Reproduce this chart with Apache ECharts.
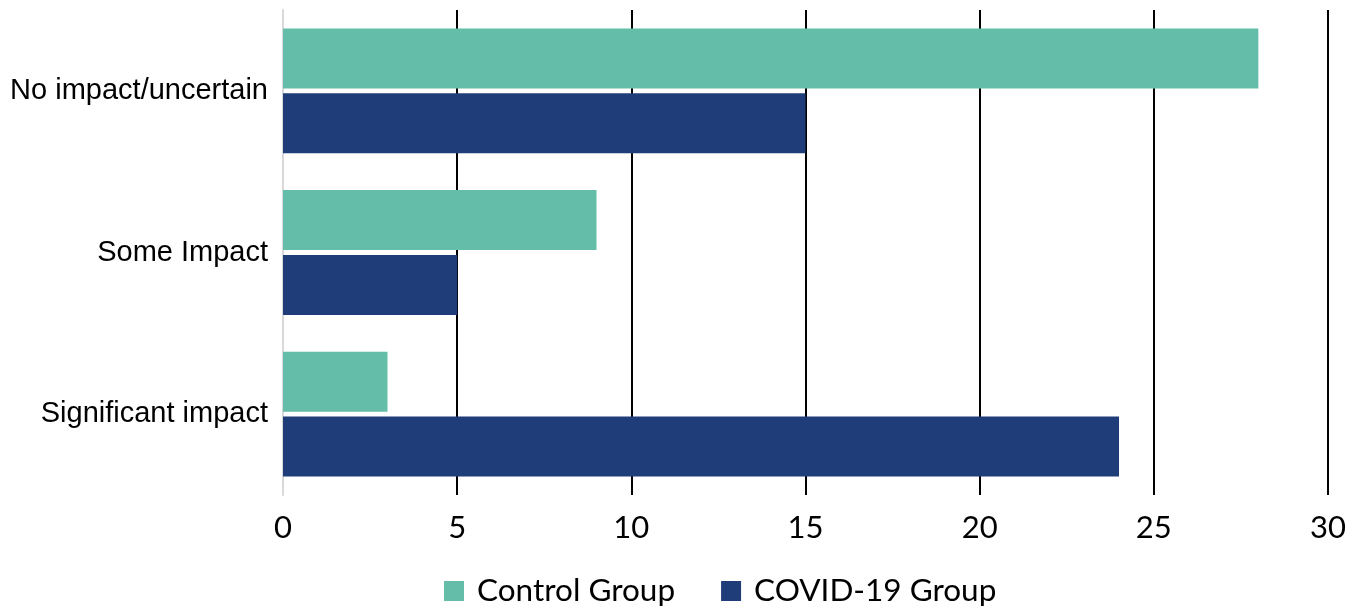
<!DOCTYPE html>
<html>
<head>
<meta charset="utf-8">
<script src="https://cdn.jsdelivr.net/npm/echarts@6/dist/echarts.min.js"></script>
<style>html,body{margin:0;padding:0;background:#fff}#c{width:1361px;height:608px}</style>
</head>
<body>
<div id="c"></div>
<script>
const categories = ['No impact/uncertain', 'Some Impact', 'Significant impact'];
const controlGroup = [28, 9, 3];
const covidGroup = [15, 5, 24];
const xTicks = [0, 5, 10, 15, 20, 25, 30];

const chart = echarts.init(document.getElementById('c'));
chart.setOption({
  animation: false,
  grid: { left: 283, right: 33, top: 10, bottom: 113, containLabel: false },
  legend: {
    top: 570, left: 439,
    itemWidth: 20, itemHeight: 20, itemGap: 46,
    icon: 'rect',
    textStyle: { fontFamily: 'Lato', fontSize: 31.5, color: '#000', padding: [0, 0, 0, 8] },
    data: ['Control Group', 'COVID-19 Group']
  },
  xAxis: {
    type: 'value', min: 0, max: 30, interval: 5,
    axisLine: { show: false }, axisTick: { show: false },
    axisLabel: { fontFamily: 'Lato', fontSize: 31, color: '#000', margin: 17 },
    splitLine: { show: true, lineStyle: { color: ['#d9d9d9', '#000', '#000', '#000', '#000', '#000', '#000'], width: 2 } }
  },
  yAxis: {
    type: 'category', data: categories, inverse: true,
    axisLine: { show: true, lineStyle: { color: '#d9d9d9', width: 2 } },
    axisTick: { show: false },
    axisLabel: { fontFamily: 'Liberation Sans', fontSize: 29, color: '#000', margin: 15, padding: [4, 0, 0, 0] }
  },
  series: [
    { name: 'Control Group', type: 'bar', data: controlGroup, barWidth: 60, barGap: '8%',
      itemStyle: { color: '#64BDA8' } },
    { name: 'COVID-19 Group', type: 'bar', data: covidGroup, barWidth: 60, barGap: '8%',
      itemStyle: { color: '#1F3D78' } }
  ]
});
</script>
</body>
</html>
